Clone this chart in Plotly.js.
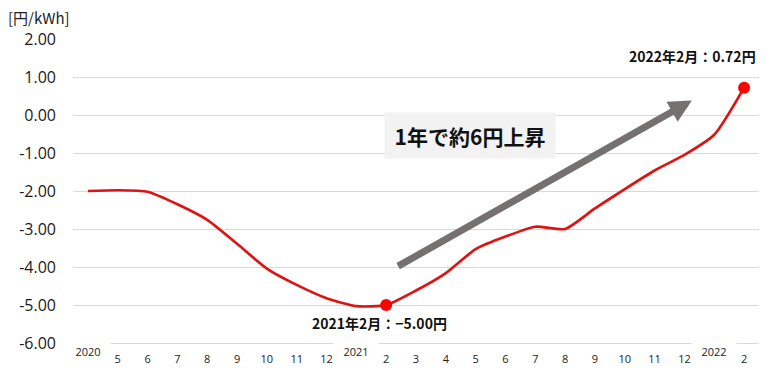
<!DOCTYPE html>
<html>
<head>
<meta charset="utf-8">
<script src="https://cdn.plot.ly/plotly-3.0.1.min.js"></script>
<style>html,body{margin:0;padding:0;background:#fff;}#chart{width:771px;height:380px;}</style>
</head>
<body>
<div id="chart"></div>
<script>
const categories = ["2020-04","2020-05","2020-06","2020-07","2020-08","2020-09","2020-10","2020-11","2020-12",
  "2021-01","2021-02","2021-03","2021-04","2021-05","2021-06","2021-07","2021-08","2021-09","2021-10","2021-11","2021-12",
  "2022-01","2022-02"];
const monthLabels = ["","5","6","7","8","9","10","11","12","","2","3","4","5","6","7","8","9","10","11","12","","2"];
const yearLabels = {"2020-04":"2020","2021-01":"2021","2022-01":"2022"};
const values = [-2.00,-1.98,-2.02,-2.35,-2.76,-3.39,-4.04,-4.47,-4.82,-5.03,-5.00,-4.62,-4.16,-3.53,-3.20,-2.94,-3.00,-2.46,-1.95,-1.46,-1.05,-0.52,0.72];
const highlight = ["2021-02","2022-02"];
const highlightText = ["2021年2月：−5.00円","2022年2月：0.72円"];
const yTicks = [2,1,0,-1,-2,-3,-4,-5,-6];
const yTickText = ["2.00","1.00","0.00","-1.00","-2.00","-3.00","-4.00","-5.00","-6.00"];

const hlY = highlight.map(c => values[categories.indexOf(c)]);

const traces = [
  {x: categories, y: values, type: "scatter", mode: "lines",
   line: {color: "#DE1414", width: 2.7, shape: "spline", smoothing: 0.6}, hoverinfo: "skip"},
  {x: highlight, y: hlY, type: "scatter", mode: "markers",
   marker: {color: "#FF0000", size: 12}, hoverinfo: "skip", cliponaxis: false}
];

const annotations = [];
Object.keys(yearLabels).forEach(c => {
  annotations.push({x: c, y: -6, xref: "x", yref: "y", text: yearLabels[c], showarrow: false,
    font: {family: "Open Sans, sans-serif", size: 11, color: "#222"},
    bgcolor: "#ffffff", width: 42, height: 20, yanchor: "middle", yshift: -8});
});
annotations.push({x: highlight[0], y: hlY[0], xref: "x", yref: "y", text: "<b>" + highlightText[0] + "</b>",
  showarrow: false, yanchor: "middle", yshift: -18, xshift: -7,
  font: {family: "Noto Sans CJK JP, sans-serif", size: 14, color: "#111"}});
annotations.push({x: highlight[1], y: hlY[1], xref: "x", yref: "y", text: "<b>" + highlightText[1] + "</b>",
  showarrow: false, yanchor: "middle", xanchor: "right", yshift: 32, xshift: 14,
  font: {family: "Noto Sans CJK JP, sans-serif", size: 14, color: "#111"}});
annotations.push({x: 12.8, y: -0.55, xref: "x", yref: "y", text: "<b>1年で約6円上昇</b>",
  showarrow: false, bgcolor: "#F2F2F2", width: 168, height: 43,
  font: {family: "Noto Sans CJK JP, sans-serif", size: 21, color: "#111"}});
annotations.push({x: 20.25, y: 0.38, ax: 10.35, ay: -4.0, xref: "x", yref: "y", axref: "x", ayref: "y",
  text: "", showarrow: true, arrowhead: 2, arrowsize: 0.65, arrowwidth: 7, arrowcolor: "#767171"});
annotations.push({x: 0, y: 1, xref: "paper", yref: "paper", xanchor: "left", yanchor: "top",
  text: "[円/kWh]", showarrow: false, xshift: -67, yshift: 34,
  font: {family: "Noto Sans CJK JP, sans-serif", size: 15, color: "#222"}});

const layout = {
  width: 771, height: 380,
  margin: {l: 73, r: 12, t: 39, b: 37},
  paper_bgcolor: "#ffffff", plot_bgcolor: "#ffffff",
  showlegend: false,
  xaxis: {type: "category", tickvals: categories, ticktext: monthLabels, range: [-0.5, 22.5],
    showgrid: false, zeroline: false, showline: true, linecolor: "#D9D9D9", linewidth: 1,
    ticks: "", tickfont: {family: "Open Sans, sans-serif", size: 11, color: "#222"}, ticklabelstandoff: 6},
  yaxis: {range: [-6, 2], tickvals: yTicks, ticktext: yTickText, showgrid: true, gridcolor: "#D9D9D9",
    gridwidth: 1, zeroline: false, showline: false, ticks: "",
    tickfont: {family: "Open Sans, sans-serif", size: 16, color: "#1a1a1a"}, ticklabelstandoff: 16},
  annotations: annotations
};

Plotly.newPlot("chart", traces, layout, {staticPlot: true, displayModeBar: false});
</script>
</body>
</html>
